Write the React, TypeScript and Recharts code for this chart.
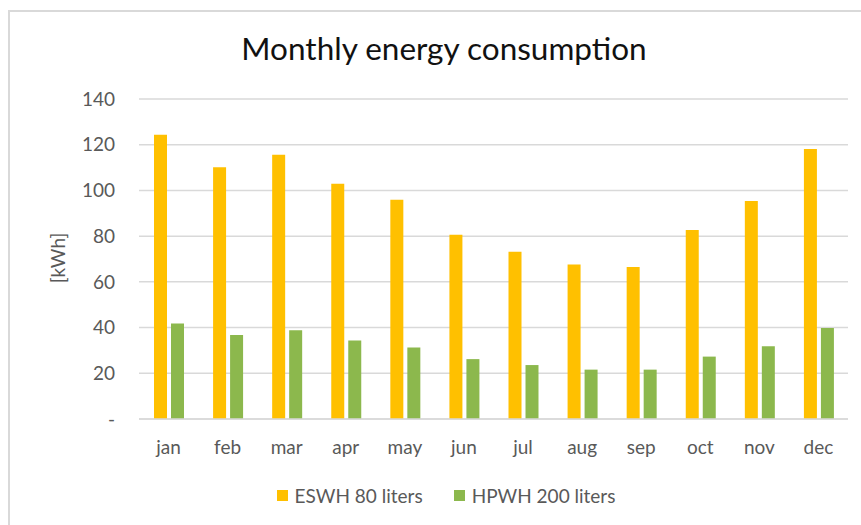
import React from 'react';
import { BarChart, Bar, XAxis, YAxis, CartesianGrid, Legend } from 'recharts';

const months = ['jan', 'feb', 'mar', 'apr', 'may', 'jun', 'jul', 'aug', 'sep', 'oct', 'nov', 'dec'];
const eswh = [124.4, 110.1, 115.6, 102.9, 95.9, 80.6, 73.2, 67.6, 66.5, 82.7, 95.4, 118.1];
const hpwh = [41.8, 36.7, 38.8, 34.3, 31.3, 26.2, 23.6, 21.6, 21.6, 27.3, 31.8, 39.8];
const yTicks = [0, 20, 40, 60, 80, 100, 120, 140];

const data = months.map((m, i) => ({ month: m, eswh: eswh[i], hpwh: hpwh[i] }));

const FONT = 'Lato, "Open Sans", sans-serif';
const TEXT = '#595959';

const renderLegend = (props: any) => {
  const { payload } = props;
  return (
    <div style={{ display: 'flex', justifyContent: 'center', alignItems: 'center' }}>
      {payload.map((p: any, i: number) => (
        <div key={i} style={{ display: 'flex', alignItems: 'center', marginLeft: i ? 31 : 0 }}>
          <span style={{ width: 11, height: 11, background: p.color, display: 'inline-block', marginRight: 7 }} />
          <span style={{ fontFamily: FONT, fontSize: 19, color: TEXT }}>{p.value}</span>
        </div>
      ))}
    </div>
  );
};

const App: React.FC = () => {
  return (
    <div style={{ position: 'absolute', left: 0, top: 0, width: 861, height: 525, overflow: 'hidden', background: '#fff' }}>
      <div
        style={{
          position: 'absolute',
          left: 8,
          top: 10,
          width: 853,
          height: 515,
          borderLeft: '2px solid #d9d9d9',
          borderTop: '2px solid #d9d9d9',
        }}
      />
      <div
        style={{
          position: 'absolute',
          left: 0,
          top: 29,
          width: 888,
          textAlign: 'center',
          fontFamily: FONT,
          fontSize: 31.5,
          color: '#111',
        }}
      >
        Monthly energy consumption
      </div>
      <div
        style={{
          position: 'absolute',
          left: 57,
          top: 258,
          transform: 'translate(-50%, -50%) rotate(-90deg)',
          fontFamily: FONT,
          fontSize: 19,
          color: TEXT,
          whiteSpace: 'nowrap',
        }}
      >
        [kWh]
      </div>
      <div style={{ position: 'absolute', left: 0, top: 0 }}>
        <BarChart
          width={861}
          height={525}
          data={data}
          margin={{ top: 99, right: 13, bottom: 76, left: 79 }}
          barSize={13}
          barGap={4}
        >
          <CartesianGrid vertical={false} stroke="#d9d9d9" strokeWidth={1.5} />
          <XAxis
            dataKey="month"
            axisLine={{ stroke: '#d9d9d9', strokeWidth: 1.5 }}
            tickLine={false}
            tickSize={6}
            tickMargin={16}
            tick={{ fill: TEXT, fontSize: 19, fontFamily: FONT }}
          />
          <YAxis
            width={60}
            domain={[0, 140]}
            ticks={yTicks}
            axisLine={false}
            tickLine={false}
            tickSize={6}
            tickMargin={18}
            tickFormatter={(v: number) => (v === 0 ? '-' : String(v))}
            tick={{ fill: TEXT, fontSize: 19, fontFamily: FONT }}
          />
          <Legend
            verticalAlign="middle"
            content={renderLegend}
            wrapperStyle={{ top: 484, left: 31, width: 830 }}
          />
          <Bar dataKey="eswh" name="ESWH 80 liters" fill="#FFC000" isAnimationActive={false} />
          <Bar dataKey="hpwh" name="HPWH 200 liters" fill="#8CB84D" isAnimationActive={false} />
        </BarChart>
      </div>
    </div>
  );
};

export default App;
